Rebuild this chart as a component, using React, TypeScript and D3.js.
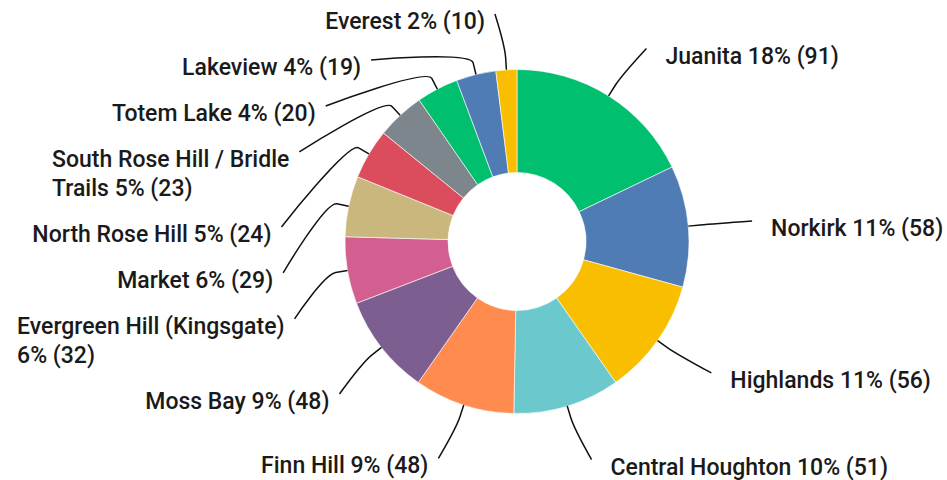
import React from 'react';
import * as d3 from 'd3';

// neighbourhood responses
const categories = [
  'Juanita',
  'Norkirk',
  'Highlands',
  'Central Houghton',
  'Finn Hill',
  'Moss Bay',
  'Evergreen Hill (Kingsgate)',
  'Market',
  'North Rose Hill',
  'South Rose Hill / Bridle Trails',
  'Totem Lake',
  'Lakeview',
  'Everest',
];
const counts = [91, 58, 56, 51, 48, 48, 32, 29, 24, 23, 20, 19, 10];
const colors = [
  '#00BF6F', '#507CB6', '#F9BE00', '#6BC8CD', '#FF8B4F', '#7D5E90', '#D25F90',
  '#C9B77D', '#DB4D5C', '#7D868C', '#00BF6F', '#507CB6', '#F9BE00',
];

const width = 947;
const height = 480;
const cx = 517;
const cy = 241.5;
const outerR = 172;
const innerR = 69;
const labelR = 228;
const fontSize = 23;
const fontFamily = 'Roboto';
const font = `500 ${fontSize}px ${fontFamily}`;
const lineH = 29;
const wrapWidth = 285;

const measure = (() => {
  const ctx = document.createElement('canvas').getContext('2d')!;
  ctx.font = font;
  return (s: string) => ctx.measureText(s).width;
})();

function wrap(text: string, maxW: number) {
  const words = text.split(' ');
  const lines: string[] = [];
  let cur = '';
  words.forEach(w => {
    const test = cur ? cur + ' ' + w : w;
    if (cur && measure(test) > maxW) {
      lines.push(cur);
      cur = w;
    } else cur = test;
  });
  if (cur) lines.push(cur);
  return lines;
}

const App = () => {
  const total = d3.sum(counts);
  const pie = d3.pie<number>().sort(null).value(d => d);
  const arcs = pie(counts);
  const arc = d3.arc<d3.PieArcDatum<number>>().innerRadius(innerR).outerRadius(outerR);

  const labels = arcs.map((a, i) => {
    const mid = (a.startAngle + a.endAngle) / 2;
    const left = mid > Math.PI;
    const pct = Math.round((counts[i] / total) * 100);
    const text = `${categories[i]} ${pct}% (${counts[i]})`;
    const lines = wrap(text, wrapWidth);
    return {
      i, mid, left, lines,
      boxW: d3.max(lines, measure)!,
      y: cy - labelR * Math.cos(mid),
    };
  });

  // push overlapping labels down, per side
  [true, false].forEach(side => {
    const group = labels.filter(l => l.left === side).sort((a, b) => a.y - b.y);
    for (let k = 1; k < group.length; k++) {
      const prev = group[k - 1];
      const gap = prev.lines.length > 1 ? 75 : 46;
      group[k].y = Math.max(group[k].y, prev.y + gap);
    }
  });

  const lineGen = (l: typeof labels[number]) => {
    const s = l.left ? -1 : 1;
    const dy = l.y - cy;
    const x = cx + s * (Math.sqrt(Math.max(0, labelR * labelR - dy * dy)) + 8);
    const ex = cx + outerR * Math.sin(l.mid);
    const ey = cy - outerR * Math.cos(l.mid);
    const bx = cx + (outerR + 12) * Math.sin(l.mid);
    const by = cy - (outerR + 12) * Math.cos(l.mid);
    const p = d3.path();
    p.moveTo(x, l.y);
    p.bezierCurveTo(x, l.y, 2 * bx - ex, 2 * by - ey, bx, by);
    p.lineTo(ex, ey);
    return { d: p.toString(), x };
  };

  return (
    <svg width={width} height={height} style={{ position: 'absolute', left: 0, top: 0 }}>
      <rect width={width} height={height} fill="#fff" />
      <g transform={`translate(${cx},${cy})`}>
        {arcs.map((a, i) => (
          <path key={i} d={arc(a)!} fill={colors[i]} stroke="#fff" strokeWidth={0.6} />
        ))}
      </g>
      {labels.map(l => {
        const { d, x } = lineGen(l);
        // label block is left-aligned; on the left side its right edge sits by the connector
        const tx = l.left ? x - 10 - l.boxW : x + 19;
        return (
          <g key={l.i}>
            <path d={d} fill="none" stroke="#111" strokeWidth={1.5} />
            <text
              x={tx}
              y={l.y + 15}
              fontFamily={fontFamily}
              fontWeight={500}
              fontSize={fontSize}
              fill="#1a1a1a"
            >
              {l.lines.map((ln, j) => (
                <tspan key={j} x={tx} dy={j === 0 ? 0 : lineH}>{ln}</tspan>
              ))}
            </text>
          </g>
        );
      })}
    </svg>
  );
};

export default App;
